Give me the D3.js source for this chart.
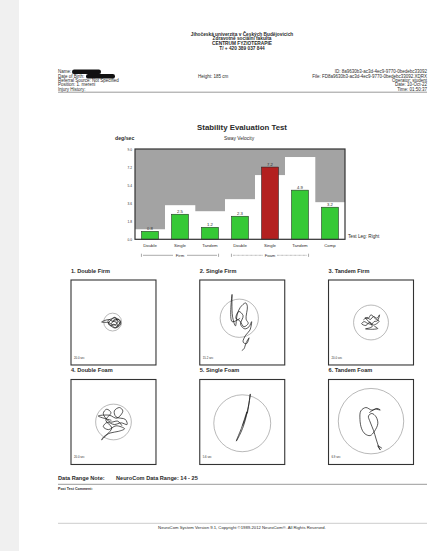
<!DOCTYPE html>
<html>
<head>
<meta charset="utf-8">
<script src="https://cdn.jsdelivr.net/npm/d3@7"></script>
<style>
  body { margin: 0; background: #fff; }
  svg { display: block; font-family: "Liberation Sans", Arial, sans-serif; }
</style>
</head>
<body>
<svg id="page" width="433" height="551"></svg>
<script>
// report text
const headerLines = ["Jihočeská univerzita v Českých Budějovicích", "Zdravotně sociální fakulta", "CENTRUM FYZIOTERAPIE", "T/ + 420 389 037 844"];
const infoLeft = ["Name:", "Date of Birth:", "Referral Source: Not Specified", "Position: 1. mereni", "Injury History:"];
const infoRight = ["ID: 8a9630b3-ac3d-4ec9-9770-0bedebc33092", "File: FD8a9630b3-ac3d-4ec9-9770-0bedebc33092.XDRX", "Operator: student", "Date: 10-Oct-22", "Time: 01:50:37"];

// bar chart data
const categories = ["Double", "Single", "Tandem", "Double", "Single", "Tandem", "Comp"];
const swayVelocity = [0.8, 2.5, 1.2, 2.3, 7.2, 4.9, 3.2];
const normLimit = [1.0, 3.4, 2.8, 4.0, 6.4, 8.2, 3.7];
const yTicks = [0, 1.8, 3.6, 5.4, 7.2, 9.0];
const groups = [{ name: "Firm", from: 0, to: 2 }, { name: "Foam", from: 3, to: 5 }];

// sway traces (deg, x = left/right, y = fore/aft)
const traceTitles = ["1. Double Firm", "2. Single Firm", "3. Tandem Firm", "4. Double Foam", "5. Single Foam", "6. Tandem Foam"];
const traceTimes = ["20.0 sec", "15.2 sec", "20.0 sec", "20.0 sec", "5.6 sec", "6.9 sec"];
const circleRadius = [2.1, 4.5, 4.1, 4.2, 6.7, 7.7];
const circleCenter = [[-0.2, 0.1], [-0.7, 1.0], [0, 0], [0, 0], [0, -0.3], [0, 0.2]];
const trace1 = [[-0.3,0.2],[0.4,0.8],[1.0,0.5],[1.4,-0.2],[0.8,-0.9],[0.1,-0.4],[-0.6,-0.8],[-1.2,-0.3],[-0.7,0.5],[0.2,1.1],[0.9,0.9],[1.6,0.3],[1.2,-0.6],[0.5,-1.2],[-0.2,-0.9],[-0.9,-0.1],[-2.8,0.1],[-1.0,0.7],[-0.3,0.3],[0.6,0.1],[1.1,-0.9],[1.7,-0.4],[1.3,0.7],[0.3,0.5],[-0.5,-0.3],[0.2,-0.6],[0.9,-0.1],[0.4,1.2],[-0.4,0.9],[-1.3,0.4],[-0.8,-0.6],[0.3,-1.3],[1.2,-1.0]];
const trace2 = [[-0.5,1.0],[-2.4,0.2],[-2.4,6.6],[-2.3,1.5],[-1.6,-0.8],[-1.2,1.8],[-0.5,3.5],[0.8,4.6],[1.2,3.8],[0.9,0.8],[1.4,-0.2],[0.4,-1.0],[-0.6,0.4],[-1.5,1.0],[-0.8,2.6],[0.2,1.6],[-0.4,-0.4],[0.6,-1.5],[1.6,-1.0],[2.2,0.2],[1.8,-1.8],[0.8,-3.0],[0.2,-4.6],[1.0,-5.0],[1.6,-3.6],[0.9,-4.8],[0.4,-6.2],[-0.1,-6.6]];
const trace3 = [[-1.8,0.6],[-0.9,1.2],[-0.2,0.7],[0.6,1.4],[1.4,1.0],[2.0,1.8],[1.5,0.4],[0.7,0.2],[0.2,-0.4],[-0.8,-0.2],[-1.6,0.2],[-2.2,-0.3],[-1.2,-0.7],[-0.3,0.1],[0.5,-0.6],[1.3,-0.3],[1.9,0.3],[1.0,0.9],[0.0,1.8],[-0.7,0.9],[-1.4,1.1],[-0.6,0.3],[0.3,-0.9],[-0.4,-1.3],[-1.3,-1.5],[0.4,-1.6],[1.6,-1.4],[0.8,-0.9]];
const trace4 = [[-0.5,0.4],[-3.6,1.4],[-1.0,1.6],[0.8,0.9],[2.2,2.6],[1.4,3.4],[0.2,2.6],[0.6,1.2],[2.8,0.6],[3.2,-0.6],[1.8,-0.2],[0.2,-0.6],[-1.5,-0.1],[-2.4,-1.1],[-1.2,-1.8],[0.6,-0.9],[2.6,-1.6],[1.2,-2.2],[-0.8,-2.6],[-2.2,-3.4],[-2.8,-4.2],[-1.6,-3.0],[-0.4,-1.4],[-1.8,0.4],[-0.6,2.2],[-1.6,3.0],[-2.4,2.0],[-0.8,0.0],[1.0,0.2],[2.0,-0.9]];
const trace5 = [[1.2,2.0],[1.6,4.4],[1.9,6.6],[1.5,4.0],[1.0,1.6],[0.4,-0.6],[-0.3,-2.4],[-1.0,-3.8],[-1.4,-4.5],[-0.9,-3.2],[-0.2,-1.5],[0.5,0.6],[1.1,2.4],[0.8,1.2],[0.1,-0.8]];
const trace6 = [[-0.4,2.2],[1.0,3.0],[2.2,2.8],[1.4,3.2],[0.2,2.8],[-1.2,3.4],[-2.4,2.6],[-2.6,0.6],[-2.2,-1.6],[-1.4,-2.8],[-0.2,-3.2],[0.8,-2.2],[1.6,-0.4],[1.2,1.2],[0.2,2.0],[-0.6,1.4],[-0.2,0.0],[0.6,-2.0],[1.2,-4.0],[1.8,-5.8],[2.2,-6.6],[1.6,-5.6],[2.6,-6.2]];
const traces = [trace1, trace2, trace3, trace4, trace5, trace6];

const dataRangeNote = "NeuroCom Data Range: 14 - 25";
const footer = "NeuroCom System Version 9.1, Copyright ©1989-2012 NeuroCom®. All Rights Reserved.";

const svg = d3.select("#page");
const ink = "#2a2a2a";

// scale a text's font size so it spans the given width
function fitWidth(sel, w) {
  const len = sel.node().getComputedTextLength();
  const fs = parseFloat(sel.attr("font-size"));
  const nfs = fs * w / len;
  sel.attr("font-size", nfs);
  return nfs;
}

// left margin strip
svg.append("rect").attr("x", 0).attr("y", 0).attr("width", 19).attr("height", 551).attr("fill", "#f0f0f0");

// institution header
const hdr = svg.append("g").attr("fill", ink).attr("text-anchor", "middle");
const h0 = hdr.append("text").attr("x", 242).attr("y", 35.5).attr("font-size", 5).attr("font-weight", "bold").text(headerLines[0]);
const hfs = fitWidth(h0, 103);
headerLines.slice(1).forEach((t, i) => {
  hdr.append("text").attr("x", 242).attr("y", 35.5 + (i + 1) * 4.8).attr("font-size", hfs).attr("font-weight", "bold").text(t);
});

// patient info
const infoY = d3.scalePoint().domain(d3.range(infoLeft.length)).range([73.4, 90.6]);
const ifs = 4.5;
svg.append("g").attr("fill", ink).attr("font-size", ifs)
  .selectAll("text").data(infoLeft).join("text")
  .attr("x", 58).attr("y", (d, i) => infoY(i)).text(d => d);
svg.append("g").attr("fill", ink).attr("font-size", ifs).attr("text-anchor", "end")
  .selectAll("text").data(infoRight).join("text")
  .attr("x", 427).attr("y", (d, i) => infoY(i)).text(d => d);
svg.append("text").attr("fill", ink).attr("font-size", ifs).attr("x", 198).attr("y", infoY(1)).text("Height: 185 cm");
// redacted fields
svg.append("rect").attr("x", 72).attr("y", 69.6).attr("width", 29).attr("height", 4.5).attr("rx", 2.2).attr("fill", "#111");
svg.append("rect").attr("x", 86).attr("y", 74.1).attr("width", 29).attr("height", 4.5).attr("rx", 2.2).attr("fill", "#111");
svg.append("line").attr("x1", 58).attr("x2", 427).attr("y1", 92.2).attr("y2", 92.2).attr("stroke", "#555").attr("stroke-width", 0.6);

// chart titles
const title = svg.append("text").attr("x", 242).attr("y", 130).attr("text-anchor", "middle")
  .attr("font-size", 8).attr("font-weight", "bold").attr("fill", ink).text("Stability Evaluation Test");
fitWidth(title, 90);
svg.append("text").attr("x", 239).attr("y", 140).attr("text-anchor", "middle").attr("font-size", 4.9).attr("fill", ink).text("Sway Velocity");
svg.append("text").attr("x", 115).attr("y", 140).attr("font-size", 5.2).attr("font-weight", "bold").attr("fill", ink).text("deg/sec");

// bar chart
const plot = { left: 135, right: 345, top: 149, bottom: 239.3 };
const idx = d3.range(categories.length);
const xBand = d3.scaleBand().domain(idx).range([plot.left, plot.right]).padding(0);
const xBar = d3.scaleBand().domain(idx).range([plot.left, plot.right]).paddingInner(0.43).paddingOuter(0.215);
const y = d3.scaleLinear().domain([0, 9]).range([plot.bottom, plot.top]);

const chart = svg.append("g");
chart.append("rect").attr("x", plot.left).attr("y", plot.top).attr("width", plot.right - plot.left)
  .attr("height", plot.bottom - plot.top).attr("fill", "#a3a3a3");
chart.selectAll("rect.norm").data(normLimit).join("rect").attr("class", "norm")
  .attr("x", (d, i) => xBand(i)).attr("width", xBand.bandwidth() + 0.3)
  .attr("y", d => y(d)).attr("height", d => plot.bottom - y(d)).attr("fill", "#fff");
chart.selectAll("rect.bar").data(swayVelocity).join("rect").attr("class", "bar")
  .attr("x", (d, i) => xBar(i)).attr("width", xBar.bandwidth())
  .attr("y", d => y(d)).attr("height", d => plot.bottom - y(d))
  .attr("fill", (d, i) => d > normLimit[i] ? "#b3201f" : "#36c936")
  .attr("stroke", "#1f1f1f").attr("stroke-width", 0.5);
chart.selectAll("text.val").data(swayVelocity).join("text").attr("class", "val")
  .attr("x", (d, i) => xBar(i) + xBar.bandwidth() / 2).attr("y", d => y(d) - 1.2)
  .attr("text-anchor", "middle").attr("font-size", 4.2).attr("fill", ink).text(d => d.toFixed(1));
chart.append("rect").attr("x", plot.left).attr("y", plot.top).attr("width", plot.right - plot.left)
  .attr("height", plot.bottom - plot.top).attr("fill", "none").attr("stroke", "#333").attr("stroke-width", 1.2);

const yAxis = chart.append("g").attr("transform", `translate(${plot.left - 2},0)`)
  .call(d3.axisLeft(y).tickValues(yTicks).tickFormat(d3.format(".1f")).tickSize(0).tickPadding(1));
yAxis.select(".domain").remove();
yAxis.selectAll("text").attr("font-size", 3.2).attr("fill", ink).attr("font-family", "Liberation Sans, Arial, sans-serif");

const xAxis = chart.append("g").attr("transform", `translate(0,${plot.bottom + 3})`)
  .call(d3.axisBottom(xBar).tickFormat(i => categories[i]).tickSize(0).tickPadding(2));
xAxis.select(".domain").remove();
xAxis.selectAll("text").attr("font-size", 4.3).attr("fill", ink).attr("font-family", "Liberation Sans, Arial, sans-serif");

chart.append("text").attr("x", plot.right + 3).attr("y", plot.bottom - 1.5).attr("font-size", 4.7).attr("fill", ink).text("Test Leg: Right");

// Firm / Foam brackets
const brY = plot.bottom + 16;
groups.forEach((g, gi) => {
  const x0 = xBar(g.from), x1 = xBar(g.to) + xBar.bandwidth(), xm = (x0 + x1) / 2;
  const br = chart.append("g").attr("stroke", "#444").attr("stroke-width", 0.45);
  const dash = gi === 1 ? "0.8,0.5" : null;
  br.append("line").attr("x1", x0).attr("x2", x0).attr("y1", brY - 1.6).attr("y2", brY + 1.6);
  br.append("line").attr("x1", x1).attr("x2", x1).attr("y1", brY - 1.6).attr("y2", brY + 1.6);
  br.append("line").attr("x1", x0 + 1.5).attr("x2", xm - 7).attr("y1", brY).attr("y2", brY).attr("stroke-dasharray", dash);
  br.append("line").attr("x1", xm + 7).attr("x2", x1 - 1.5).attr("y1", brY).attr("y2", brY).attr("stroke-dasharray", dash);
  chart.append("text").attr("x", xm).attr("y", brY + 1.4).attr("text-anchor", "middle").attr("font-size", 4.2).attr("fill", ink).text(g.name);
});

// sway trace panels
const col = d3.scaleBand().domain([0, 1, 2]).range([71, 413.5]).paddingInner(0.34).paddingOuter(0);
const rowTop = [280, 379.5];
const boxSize = col.bandwidth();
const line = d3.line().curve(d3.curveCatmullRom.alpha(0.5));

traces.forEach((pts, k) => {
  const bx = col(k % 3), by = rowTop[Math.floor(k / 3)];
  const sx = d3.scaleLinear().domain([-10, 10]).range([bx, bx + boxSize]);
  const sy = d3.scaleLinear().domain([-10, 10]).range([by + boxSize, by]);
  const g = svg.append("g");
  g.append("text").attr("x", bx).attr("y", by - 7.5).attr("font-size", 5.6).attr("font-weight", "bold").attr("fill", ink).text(traceTitles[k]);
  g.append("rect").attr("x", bx).attr("y", by).attr("width", boxSize).attr("height", boxSize)
    .attr("fill", "#fff").attr("stroke", "#333").attr("stroke-width", 1.1);
  const c = circleCenter[k];
  g.append("ellipse").attr("cx", sx(c[0])).attr("cy", sy(c[1]))
    .attr("rx", sx(circleRadius[k]) - sx(0)).attr("ry", sy(0) - sy(circleRadius[k]))
    .attr("fill", "none").attr("stroke", "#8a8a8a").attr("stroke-width", 0.6);
  g.append("path").attr("d", line(pts.map(p => [sx(p[0]), sy(p[1])])))
    .attr("fill", "none").attr("stroke", "#111").attr("stroke-width", 0.7);
  g.append("text").attr("x", bx + 3).attr("y", by + boxSize - 6).attr("font-size", 2.8).attr("fill", ink).text(traceTimes[k]);
});

// data range note and footer
svg.append("text").attr("x", 58).attr("y", 480).attr("font-size", 5.6).attr("font-weight", "bold").attr("fill", ink).text("Data Range Note:");
svg.append("text").attr("x", 116).attr("y", 480).attr("font-size", 5.6).attr("font-weight", "bold").attr("fill", ink).text(dataRangeNote);
svg.append("line").attr("x1", 58).attr("x2", 427).attr("y1", 484.3).attr("y2", 484.3).attr("stroke", "#555").attr("stroke-width", 0.6);
svg.append("text").attr("x", 58).attr("y", 489.5).attr("font-size", 3.6).attr("font-weight", "bold").attr("fill", ink).text("Post Test Comment:");
svg.append("line").attr("x1", 58).attr("x2", 427).attr("y1", 523.3).attr("y2", 523.3).attr("stroke", "#999").attr("stroke-width", 0.5);
const ft = svg.append("text").attr("x", 242).attr("y", 528.6).attr("text-anchor", "middle").attr("font-size", 4).attr("fill", ink).text(footer);
fitWidth(ft, 168);
</script>
</body>
</html>
